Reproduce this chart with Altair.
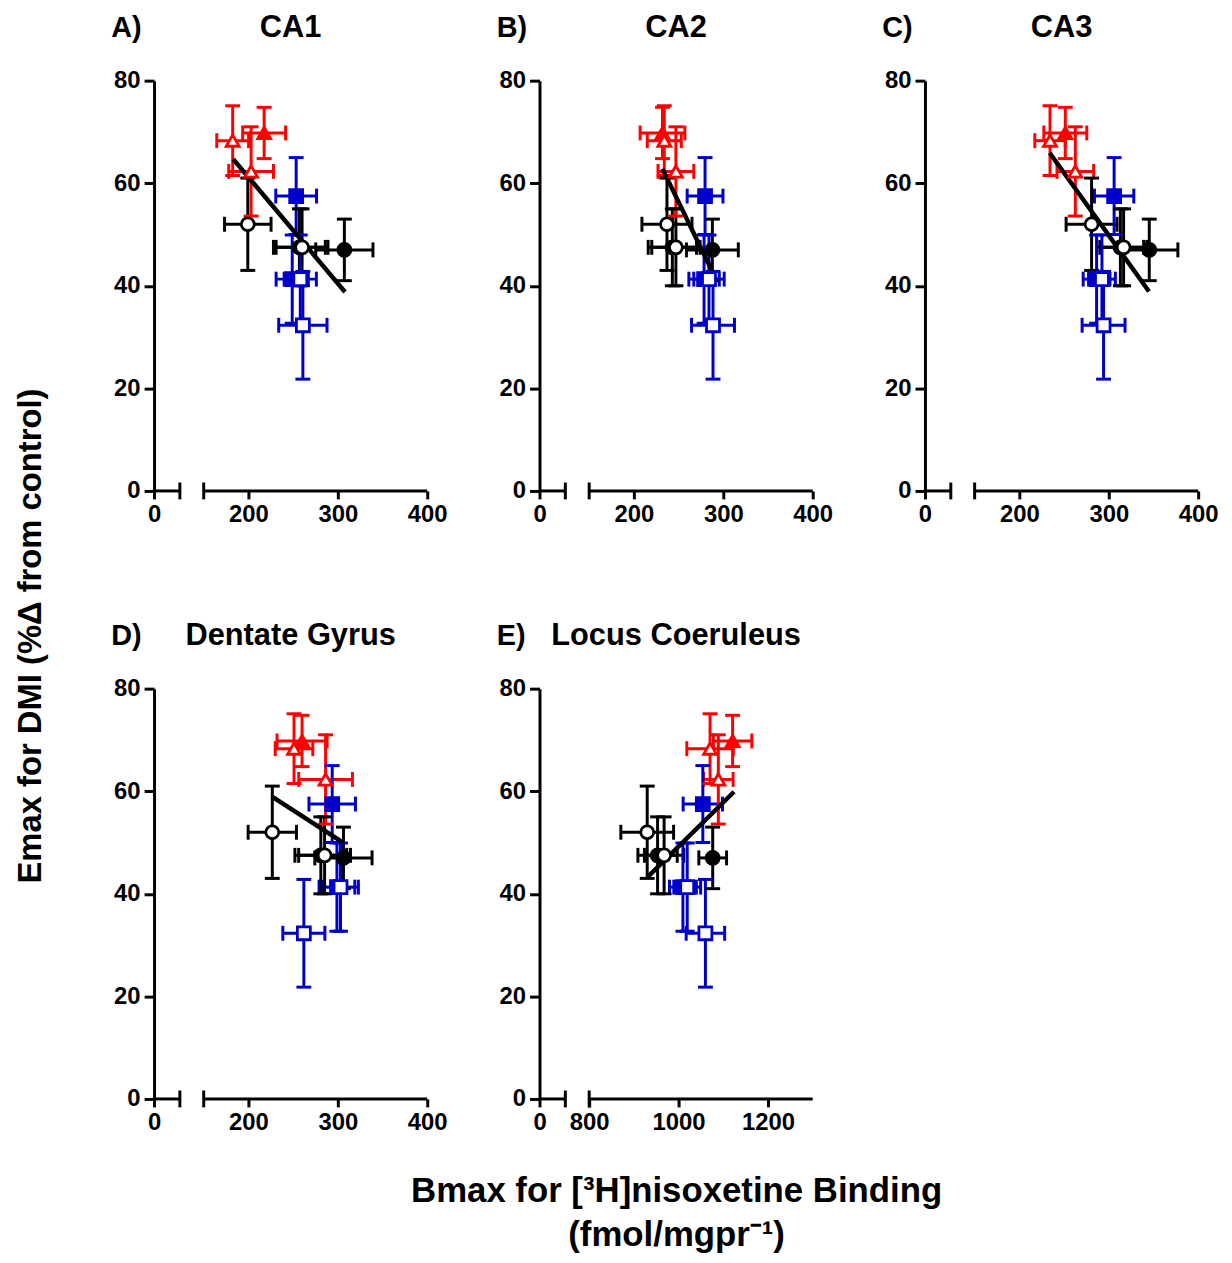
import altair as alt
import pandas as pd

FONT = "Liberation Sans"

# ---------------- data ----------------
# point order: K1 K4 K2 K3 | B1 B2 B3 B4 | R1 R2 R3
pt_id = ["K1", "K4", "K2", "K3", "B1", "B2", "B3", "B4", "R1", "R2", "R3"]
pt_color = ["#000000"] * 4 + ["#0000CC"] * 4 + ["#FF0000"] * 3
pt_shape = ["circle"] * 4 + ["square"] * 4 + ["triangle-up"] * 3
pt_filled = [False, True, False, True, True, True, False, False, True, False, False]

emax = [52.0, 47.5, 47.5, 47.0, 57.5, 41.3, 41.3, 32.3, 69.8, 68.3, 62.3]
emax_err = [9.0, 7.5, 7.5, 6.0, 7.5, 8.6, 8.6, 10.5, 5.0, 6.8, 8.7]

ca1_bmax = [199.3, 257.0, 260.0, 307.3, 253.4, 249.0, 258.0, 260.9, 217.6, 182.4, 203.0]
ca1_err = [26, 29, 29, 32, 22.8, 18, 18, 27, 24, 17.8, 25]
ca2_bmax = [237.0, 243.0, 247.0, 287.8, 279.6, 278.5, 284.0, 288.5, 232.0, 234.0, 247.0]
ca2_err = [28, 27, 27, 29, 20, 17, 17, 24, 25, 19, 20]
ca3_bmax = [280.8, 313.0, 316.6, 345.3, 306.0, 286.4, 292.4, 294.2, 251.4, 234.3, 262.6]
ca3_err = [28.5, 26, 26, 32, 22, 15, 15, 24, 24, 17, 20.5]
dg_bmax = [226.7, 281.0, 285.2, 306.3, 293.7, 299.0, 303.0, 262.0, 260.0, 251.0, 286.3]
dg_err = [27, 29, 29, 32, 26, 20, 20, 23.5, 28, 21, 30]
lc_bmax = [929.8, 953.0, 967.6, 1076.3, 1054.2, 1009.7, 1019.3, 1060.0, 1120.8, 1070.4, 1088.9]
lc_err = [59, 44, 44, 31, 44, 30, 30, 43, 43, 52, 33]

# regression line end points
ca1_reg_x, ca1_reg_y = [183, 308], [64.7, 38.8]
ca2_reg_x, ca2_reg_y = [232, 288.5], [62.8, 42.5]
ca3_reg_x, ca3_reg_y = [234, 345], [65.9, 38.9]
dg_reg_x, dg_reg_y = [226, 306], [59.0, 50.0]
lc_reg_x, lc_reg_y = [930, 1124], [43.2, 59.9]

# broken x axis: [0, stub end, segment start, segment end]
hip_break = [0, 30, 150, 400]
lc_break = [0, 60, 800, 1300]
hip_ticks = [0, 200, 300, 400]
lc_ticks = [0, 800, 1000, 1200]
y_ticks = [0, 20, 40, 60, 80]

W, H = 275, 413
SPAN = [0, 26, 50, W]


def panel(letter, name, bmax, berr, reg_x, reg_y, brk, ticks, extra=None):
    df = pd.DataFrame({
        "id": pt_id, "color": pt_color, "shape": pt_shape,
        "x": bmax, "xe": berr, "y": emax, "ye": emax_err,
    })
    df["fill"] = [c if f else "#FFFFFF" for c, f in zip(pt_color, pt_filled)]
    df["xlo"] = df["x"] - df["xe"]
    df["xhi"] = df["x"] + df["xe"]
    df["ylo"] = df["y"] - df["ye"]
    df["yhi"] = df["y"] + df["ye"]

    xs = alt.Scale(domain=brk, range=SPAN, nice=False, zero=False)
    ys = alt.Scale(domain=[0, 80], nice=False, zero=False)
    xax = alt.Axis(values=ticks, domain=False, tickSize=8, format="d")
    yax = alt.Axis(values=y_ticks, tickSize=10, format="d")

    def X(f):
        return alt.X(f"{f}:Q", scale=xs, axis=xax, title=None)

    def Y(f):
        return alt.Y(f"{f}:Q", scale=ys, axis=yax, title=None)

    col = alt.Color("color:N", scale=None)

    seg = pd.DataFrame({"a": [brk[0], brk[2]], "b": [brk[1], brk[3]], "y": [0, 0]})
    brk_df = pd.DataFrame({"a": [brk[1], brk[2]], "y": [0, 0]})
    axis_line = alt.Chart(seg).mark_rule(color="black", strokeWidth=3).encode(
        x=X("a"), x2="b:Q", y=Y("y"))
    axis_brk = alt.Chart(brk_df).mark_tick(
        orient="vertical", size=17, thickness=3, color="black", opacity=1
    ).encode(x=X("a"), y=Y("y"))

    base = alt.Chart(df)
    xerr = base.mark_rule(strokeWidth=3).encode(x=X("xlo"), x2="xhi:Q", y=Y("y"), color=col)
    xcap1 = base.mark_tick(orient="vertical", size=15, thickness=3, opacity=1).encode(
        x=X("xlo"), y=Y("y"), color=col)
    xcap2 = base.mark_tick(orient="vertical", size=15, thickness=3, opacity=1).encode(
        x=X("xhi"), y=Y("y"), color=col)
    yerr = base.mark_rule(strokeWidth=3).encode(x=X("x"), y=Y("ylo"), y2="yhi:Q", color=col)
    ycap1 = base.mark_tick(orient="horizontal", size=15, thickness=3, opacity=1).encode(
        x=X("x"), y=Y("ylo"), color=col)
    ycap2 = base.mark_tick(orient="horizontal", size=15, thickness=3, opacity=1).encode(
        x=X("x"), y=Y("yhi"), color=col)

    reg = alt.Chart(pd.DataFrame({"x": reg_x, "y": reg_y})).mark_line(
        color="black", strokeWidth=4.5).encode(x=X("x"), y=Y("y"))

    pts = base.mark_point(filled=True, size=170, strokeWidth=2.8, opacity=1).encode(
        x=X("x"), y=Y("y"),
        shape=alt.Shape("shape:N", scale=None),
        fill=alt.Fill("fill:N", scale=None),
        stroke=alt.Stroke("color:N", scale=None),
    )

    lab = alt.Chart(pd.DataFrame({"t": [letter]})).mark_text(
        font=FONT, fontSize=29, fontWeight="bold", align="left", baseline="alphabetic",
        color="black").encode(text="t:N", x=alt.value(-43), y=alt.value(-44))
    ttl = alt.Chart(pd.DataFrame({"t": [name]})).mark_text(
        font=FONT, fontSize=31, fontWeight="bold", align="center", baseline="alphabetic",
        color="black").encode(text="t:N", x=alt.value(W / 2), y=alt.value(-44))

    layers = [axis_line, axis_brk, xerr, xcap1, xcap2, yerr, ycap1, ycap2, reg, pts, lab, ttl]
    if extra:
        layers += extra
    return alt.layer(*layers).properties(width=W, height=H)


y_title = alt.Chart(pd.DataFrame({"t": ["Emax for DMI (%\u0394 from control)"]})).mark_text(
    font=FONT, fontSize=33, fontWeight="bold", align="center", baseline="middle",
    angle=270, color="black").encode(text="t:N", x=alt.value(-124), y=alt.value(559))

x_title1 = alt.Chart(pd.DataFrame({"t": ["Bmax for [\u00b3H]nisoxetine Binding"]})).mark_text(
    font=FONT, fontSize=35, fontWeight="bold", align="center", baseline="alphabetic",
    color="black").encode(text="t:N", x=alt.value(138), y=alt.value(517))
x_title2 = alt.Chart(pd.DataFrame({"t": ["(fmol/mgpr\u207b\u00b9)"]})).mark_text(
    font=FONT, fontSize=35, fontWeight="bold", align="center", baseline="alphabetic",
    color="black").encode(text="t:N", x=alt.value(138), y=alt.value(561))

pA = panel("A)", "CA1", ca1_bmax, ca1_err, ca1_reg_x, ca1_reg_y, hip_break, hip_ticks, [y_title])
pB = panel("B)", "CA2", ca2_bmax, ca2_err, ca2_reg_x, ca2_reg_y, hip_break, hip_ticks)
pC = panel("C)", "CA3", ca3_bmax, ca3_err, ca3_reg_x, ca3_reg_y, hip_break, hip_ticks)
pD = panel("D)", "Dentate Gyrus", dg_bmax, dg_err, dg_reg_x, dg_reg_y, hip_break, hip_ticks)
pE = panel("E)", "Locus Coeruleus", lc_bmax, lc_err, lc_reg_x, lc_reg_y, lc_break, lc_ticks,
           [x_title1, x_title2])

chart = alt.ConcatChart(
    concat=[pA, pB, pC, pD, pE],
    columns=3,
    spacing={"row": 199, "column": 113},
    bounds="flush",
    padding={"left": 7, "top": 0, "right": 5, "bottom": 5},
).configure_view(
    strokeWidth=0
).configure_axis(
    labelFont=FONT, labelFontWeight="bold", labelFontSize=24, labelColor="black",
    domainColor="black", domainWidth=3, tickColor="black", tickWidth=3,
    grid=False, labelFlush=False, labelOverlap=False, labelPadding=4,
)

chart.save("out.html", embed_options={"renderer": "svg", "actions": False})
